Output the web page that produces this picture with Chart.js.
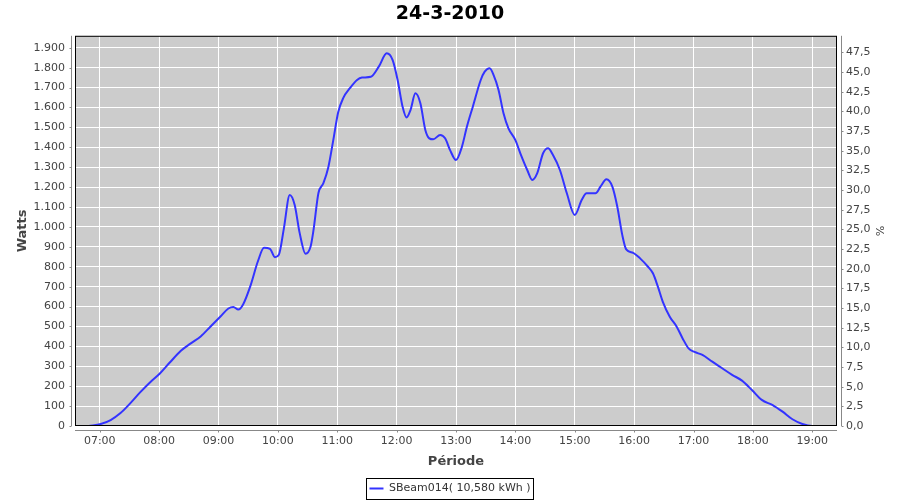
<!DOCTYPE html>
<html>
<head>
<meta charset="utf-8">
<script src="https://cdn.jsdelivr.net/npm/chart.js@4.4.0/dist/chart.umd.min.js"></script>
<style>
  html, body { margin: 0; padding: 0; background: #fff; }
  #wrap { width: 900px; height: 500px; }
</style>
</head>
<body>
<div id="wrap"><canvas id="power-chart"></canvas></div>
<script>
const chartTitle = '24-3-2010'
const seriesLabel = 'SBeam014( 10,580 kWh )'
const xTitle = 'Période'
const yTitle = 'Watts'
const y1Title = '%'
const hourTicks = ['07:00', '08:00', '09:00', '10:00', '11:00', '12:00', '13:00', '14:00', '15:00', '16:00', '17:00', '18:00', '19:00']
const xRange = ['06:35', '19:25']
const wattsMax = 1960
const wattsStep = 100
const percentMax = 49.6
const percentStep = 2.5

const times = [
  '06:49', '07:01', '07:11', '07:21', '07:31', '07:41', '07:51', '08:01', '08:11', '08:22',
  '08:32', '08:42', '08:52', '09:02', '09:10', '09:15', '09:20', '09:25', '09:32', '09:40',
  '09:46', '09:52', '09:57', '10:01', '10:06', '10:12', '10:17', '10:22', '10:28', '10:33',
  '10:36', '10:41', '10:46', '10:51', '10:56', '11:01', '11:06', '11:13', '11:20', '11:25',
  '11:34', '11:42', '11:50', '11:56', '12:01', '12:06', '12:10', '12:14', '12:19', '12:24',
  '12:29', '12:33', '12:37', '12:44', '12:49', '12:54', '13:00', '13:06', '13:11', '13:17',
  '13:25', '13:29', '13:34', '13:38', '13:43', '13:48', '13:53', '14:00', '14:05', '14:12',
  '14:17', '14:22', '14:28', '14:33', '14:38', '14:45', '14:52', '15:00', '15:07', '15:12',
  '15:21', '15:26', '15:32', '15:38', '15:43', '15:48', '15:52', '15:59', '16:06', '16:14',
  '16:19', '16:24', '16:29', '16:36', '16:43', '16:49', '16:55', '17:01', '17:09', '17:19',
  '17:29', '17:39', '17:49', '17:59', '18:09', '18:20', '18:30', '18:40', '18:50', '19:00',
  '19:10'
]
const watts = [
  0, 10, 30, 65, 115, 170, 220, 265, 320, 378,
  415, 450, 500, 550, 590, 598, 585, 612, 700, 830,
  895, 890, 848, 860, 990, 1160, 1110, 970, 865, 900,
  984, 1170, 1220, 1300, 1436, 1577, 1647, 1698, 1738, 1750,
  1754, 1805, 1872, 1838, 1738, 1604, 1550, 1587, 1671, 1621,
  1487, 1445, 1440, 1462, 1445, 1386, 1336, 1403, 1503, 1604,
  1738, 1780, 1797, 1763, 1688, 1571, 1495, 1436, 1370, 1286,
  1236, 1269, 1370, 1395, 1361, 1286, 1169, 1060, 1135, 1169,
  1169, 1202, 1239, 1202, 1101, 960, 887, 870, 842, 800,
  767, 700, 624, 549, 499, 440, 390, 372, 357, 323,
  290, 257, 228, 181, 131, 105, 72, 34, 10, 0,
  0
]

const toMinutes = s => {
  const [h, m] = s.split(':').map(Number)
  return h * 60 + m
}
const fmtTime = v => {
  const h = Math.floor(v / 60)
  const m = Math.round(v % 60)
  return String(h).padStart(2, '0') + ':' + String(m).padStart(2, '0')
}
// keep only ticks on the step, drops the max bound tick
const onStep = step => s => {
  s.ticks = s.ticks.filter(t => Math.abs(t.value / step - Math.round(t.value / step)) < 1e-6)
}

const textColor = '#444444'
const axisColor = '#888888'
const font = { family: 'DejaVu Sans', size: 11 }
const titleFont = { family: 'DejaVu Sans', size: 13, weight: 'bold' }
const bottomPad = -4

// grey plot background, black frame, offset axis lines and legend box
const plotFrame = {
  id: 'plotFrame',
  beforeDraw (chart) {
    const { ctx, chartArea: a } = chart
    ctx.save()
    ctx.fillStyle = '#cccccc'
    ctx.fillRect(a.left, a.top, a.width, a.height)
    ctx.restore()
  },
  afterDraw (chart) {
    const { ctx, chartArea: a, scales } = chart
    ctx.save()
    ctx.strokeStyle = '#000000'
    ctx.lineWidth = 1
    ctx.strokeRect(a.left + 0.5, a.top + 0.5, a.width - 1, a.height - 1)

    ctx.strokeStyle = axisColor
    ctx.beginPath()
    const lx = a.left - 3.5
    ctx.moveTo(lx, a.top); ctx.lineTo(lx, a.bottom)
    scales.y.ticks.forEach(t => {
      const py = Math.round(scales.y.getPixelForValue(t.value)) + 0.5
      ctx.moveTo(lx - 2, py); ctx.lineTo(lx, py)
    })
    const rx = a.right + 4.5
    ctx.moveTo(rx, a.top); ctx.lineTo(rx, a.bottom)
    scales.y1.ticks.forEach(t => {
      const py = Math.round(scales.y1.getPixelForValue(t.value)) + 0.5
      ctx.moveTo(rx, py); ctx.lineTo(rx + 2, py)
    })
    const by = a.bottom + 4.5
    ctx.moveTo(a.left, by); ctx.lineTo(a.right, by)
    scales.x.ticks.forEach(t => {
      const px = Math.round(scales.x.getPixelForValue(t.value)) + 0.5
      ctx.moveTo(px, by); ctx.lineTo(px, by + 2)
    })
    ctx.stroke()

    const hb = chart.legend && chart.legend.legendHitBoxes && chart.legend.legendHitBoxes[0]
    if (hb) {
      const cy = hb.top + hb.height / 2
      ctx.strokeStyle = '#000000'
      ctx.strokeRect(Math.round(hb.left - 3) + 0.5, Math.round(cy - 11) + 0.5, Math.round(hb.width + 6), 21)
    }
    ctx.restore()
  }
}

const points = times.map((t, i) => ({ x: toMinutes(t), y: watts[i] }))

new Chart(document.getElementById('power-chart'), {
  type: 'line',
  data: {
    datasets: [{
      label: seriesLabel,
      data: points,
      borderColor: '#3333ff',
      backgroundColor: '#3333ff',
      borderWidth: 2,
      pointRadius: 0,
      cubicInterpolationMode: 'monotone',
      yAxisID: 'y'
    }]
  },
  options: {
    responsive: true,
    maintainAspectRatio: false,
    animation: false,
    layout: { padding: { top: 0, left: 0, right: 0, bottom: bottomPad } },
    plugins: {
      title: {
        display: true,
        text: chartTitle,
        color: '#000000',
        font: { family: 'DejaVu Sans', size: 19, weight: 'bold', lineHeight: 1.2 },
        padding: { top: 3, bottom: 10 }
      },
      legend: {
        position: 'bottom',
        labels: {
          color: '#333333',
          font,
          boxWidth: 14,
          boxHeight: 2,
          padding: 5,
          generateLabels (chart) {
            return Chart.defaults.plugins.legend.labels.generateLabels(chart).map(l => ({ ...l, lineWidth: 0 }))
          }
        }
      },
      tooltip: { enabled: false }
    },
    scales: {
      x: {
        type: 'linear',
        min: toMinutes(xRange[0]),
        max: toMinutes(xRange[1]),
        bounds: 'data',
        afterBuildTicks: s => { s.ticks = hourTicks.map(h => ({ value: toMinutes(h) })) },
        afterFit: s => { s.height = s.chart.height - bottomPad - 426 - (s.chart.legend ? s.chart.legend.height : 0) },
        ticks: { color: textColor, font, padding: 9, maxRotation: 0, autoSkip: false, callback: v => fmtTime(v) },
        grid: { color: '#ffffff', borderDash: [2, 2], drawTicks: false },
        border: { display: false },
        title: { display: true, text: xTitle, color: textColor, font: titleFont, padding: { top: 0, bottom: 9 } }
      },
      y: {
        position: 'left',
        min: 0,
        max: wattsMax,
        bounds: 'data',
        afterBuildTicks: onStep(wattsStep),
        afterFit: s => { s.width = 75 },
        ticks: { stepSize: wattsStep, color: textColor, font, padding: 10, callback: v => v.toLocaleString('de-DE') },
        grid: { color: '#ffffff', borderDash: [2, 2], drawTicks: false },
        border: { display: false },
        title: { display: true, text: yTitle, color: textColor, font: titleFont, padding: { top: 15, bottom: 0 } }
      },
      y1: {
        position: 'right',
        min: 0,
        max: percentMax,
        bounds: 'data',
        afterBuildTicks: onStep(percentStep),
        afterFit: s => { s.width = 63 },
        ticks: { stepSize: percentStep, color: textColor, font, padding: 9, callback: v => v.toFixed(1).replace('.', ',') },
        grid: { display: false, drawTicks: false },
        border: { display: false },
        title: { display: true, text: y1Title, color: textColor, font, padding: { top: 15, bottom: 0 } }
      }
    }
  },
  plugins: [plotFrame]
})
</script>
</body>
</html>
